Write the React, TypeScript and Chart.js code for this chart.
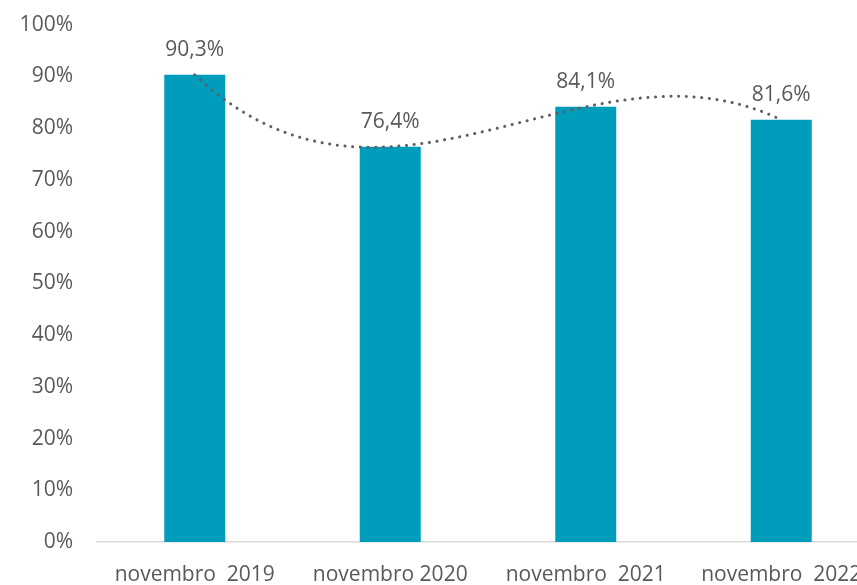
import React, { useEffect, useRef } from "react";
import { Chart, registerables } from "chart.js";

Chart.register(...registerables);

const categories = ["novembro  2019", "novembro 2020", "novembro  2021", "novembro  2022"];
const values = [90.3, 76.4, 84.1, 81.6];
const valueLabels = ["90,3%", "76,4%", "84,1%", "81,6%"];
const TREND_ORDER = 3;

const FONT = "'Open Sans', 'Liberation Sans', sans-serif";
const TEXT = "#595959";

// polynomial trend (order = n-1 -> exact interpolation through the data)
function trendAt(t: number): number {
  const n = Math.min(values.length, TREND_ORDER + 1);
  let s = 0;
  for (let i = 0; i < n; i++) {
    let l = 1;
    for (let j = 0; j < n; j++) if (j !== i) l *= (t - j) / (i - j);
    s += values[i] * l;
  }
  return s;
}

const overlay = {
  id: "overlay",
  afterDatasetsDraw(chart: any) {
    const ctx = chart.ctx;
    const x = chart.scales.x;
    const y = chart.scales.y;
    // trendline
    ctx.save();
    ctx.strokeStyle = "#5f5f5f";
    ctx.lineWidth = 3;
    ctx.lineCap = "round";
    ctx.setLineDash([0.1, 7.6]);
    ctx.beginPath();
    const last = values.length - 1;
    const steps = 300;
    for (let k = 0; k <= steps; k++) {
      const t = (k / steps) * last;
      const px = x.getPixelForValue(t);
      const py = y.getPixelForValue(trendAt(t));
      if (k === 0) ctx.moveTo(px, py);
      else ctx.lineTo(px, py);
    }
    ctx.stroke();
    ctx.restore();
    // data labels
    ctx.save();
    ctx.fillStyle = TEXT;
    ctx.font = `21px ${FONT}`;
    ctx.textAlign = "center";
    ctx.textBaseline = "middle";
    const meta = chart.getDatasetMeta(0);
    meta.data.forEach((bar: any, i: number) => {
      ctx.fillText(valueLabels[i], bar.x, bar.y - 25);
    });
    ctx.restore();
  },
};

export default function App() {
  const ref = useRef<HTMLCanvasElement>(null);
  useEffect(() => {
    if (!ref.current) return;
    const chart = new Chart(ref.current, {
      type: "bar",
      data: {
        labels: categories,
        datasets: [
          {
            data: values,
            backgroundColor: "#009CBC",
            barPercentage: 0.312,
            categoryPercentage: 1,
          },
        ],
      },
      options: {
        animation: false,
        responsive: false,
        layout: { padding: { left: 0, right: 21, top: 11, bottom: 0 } },
        plugins: { legend: { display: false }, tooltip: { enabled: false } },
        scales: {
          x: {
            grid: { display: false, drawTicks: false },
            border: { display: true, color: "#D9D9D9", width: 1.5 },
            ticks: {
              color: TEXT,
              font: { family: FONT, size: 21 },
              padding: 20,
              maxRotation: 0,
              autoSkip: false,
            },
            afterFit: (s: any) => {
              s.height = 43;
            },
          },
          y: {
            min: 0,
            max: 100,
            grid: { display: false, drawTicks: false },
            border: { display: false },
            ticks: {
              stepSize: 10,
              color: TEXT,
              font: { family: FONT, size: 21 },
              padding: 24,
              callback: (v: any) => `${v}%`,
            },
            afterFit: (s: any) => {
              s.width = 97;
            },
          },
        },
      },
      plugins: [overlay],
    });
    return () => chart.destroy();
  }, []);
  return (
    <div
      style={{
        position: "absolute",
        left: 0,
        top: 0,
        width: 857,
        height: 585,
        overflow: "hidden",
        background: "#fff",
      }}
    >
      <canvas
        ref={ref}
        width={900}
        height={597}
        style={{ display: "block", marginTop: -12 }}
      />
    </div>
  );
}
